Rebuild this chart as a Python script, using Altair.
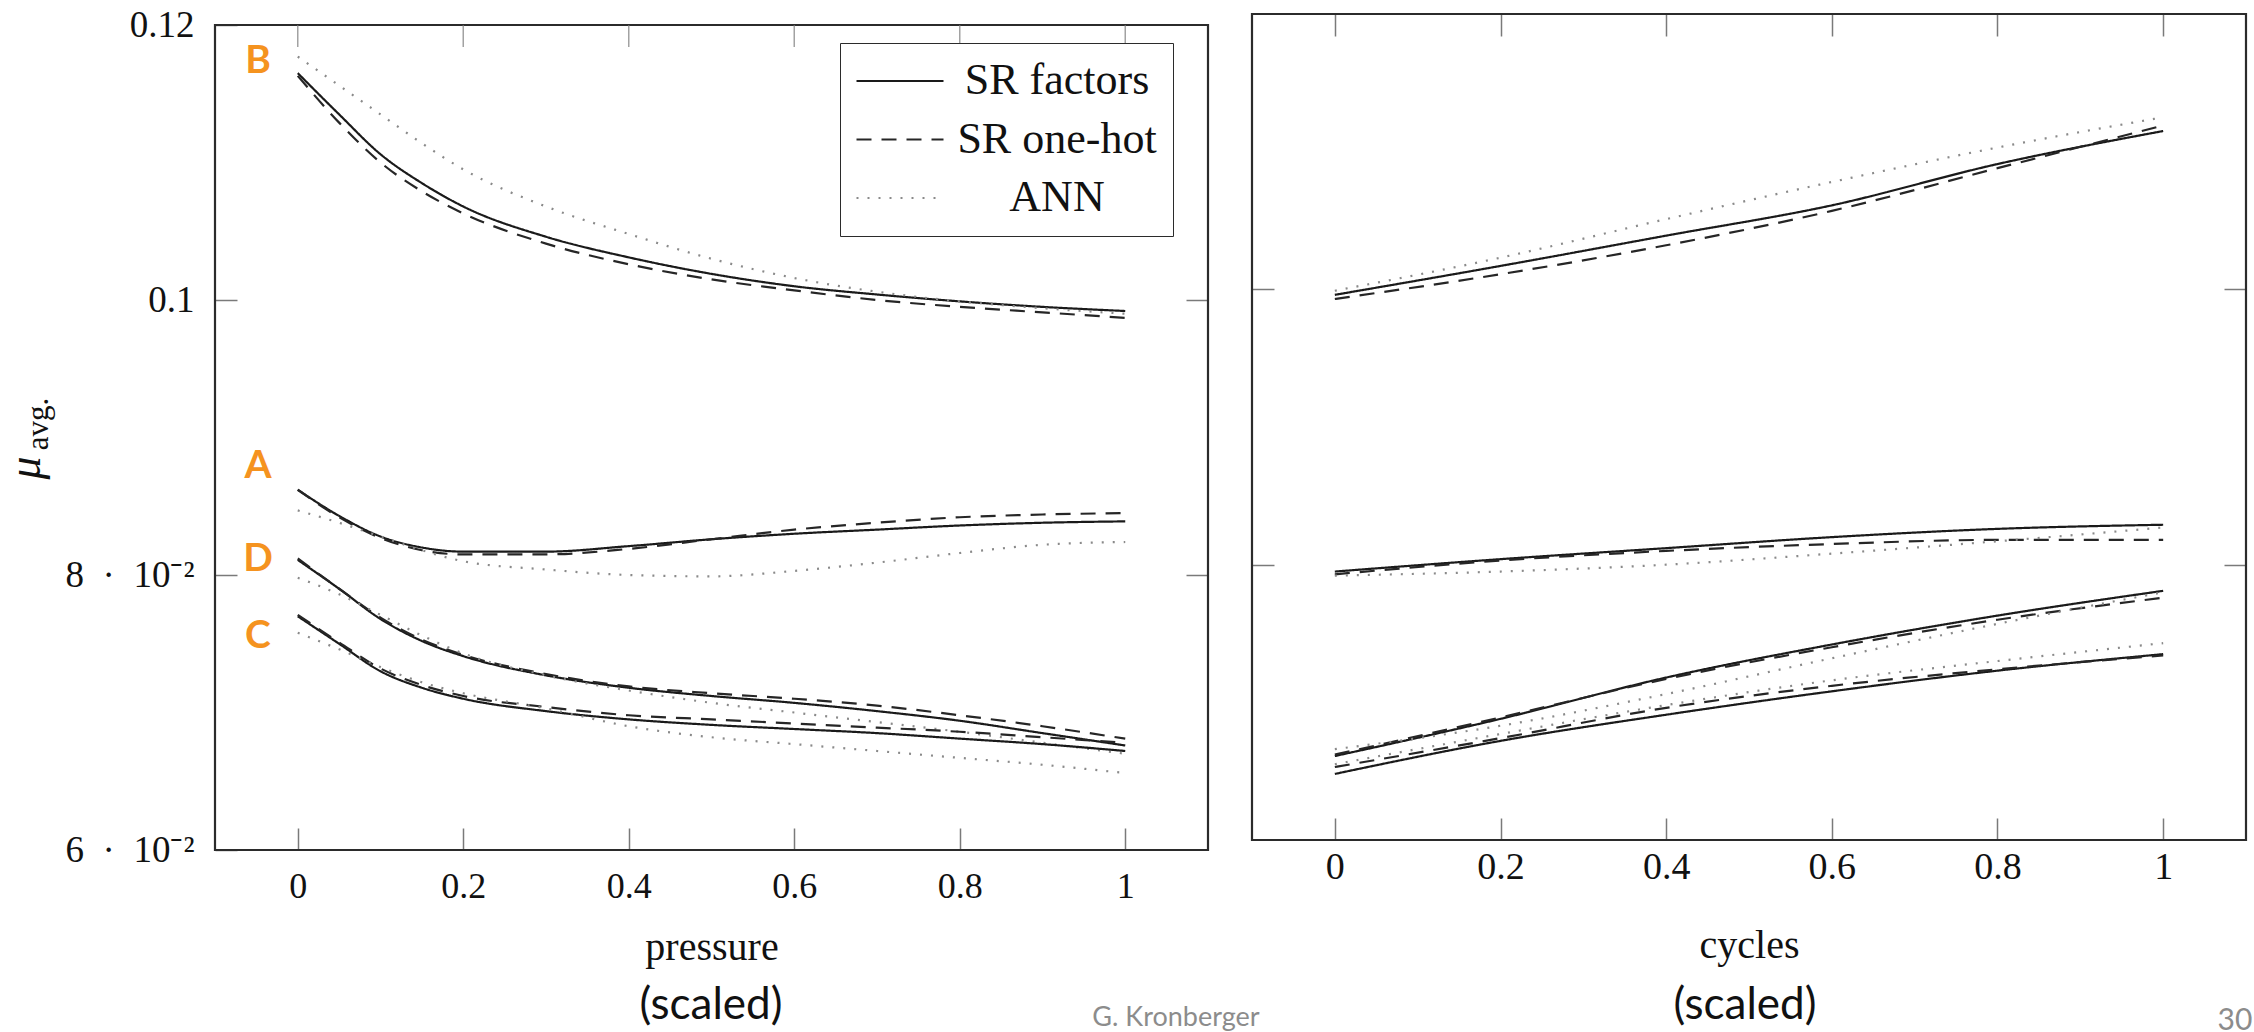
import altair as alt
import pandas as pd

# ---------------- data ----------------
MODELS = ["SR factors", "SR one-hot", "ANN"]
MODEL_COLORS = ["#1a1a1a", "#262626", "#8a8a8a"]
MODEL_DASHES = [[1, 0], [15, 10], [2, 9]]

X_TICKS = [0, 0.2, 0.4, 0.6, 0.8, 1.0]
X_DOMAIN = [-0.1, 1.1]
Y_TICKS = [0.06, 0.08, 0.1, 0.12]
Y_TICK_LABELS = ["6\u2002·\u200210⁻²", "8\u2002·\u200210⁻²", "0.1", "0.12"]
Y_DOMAIN = [0.06, 0.12]
Y_DOMAIN_LEFT = [0.06, 0.1208]  # left frame sits a little lower than the right one

# left panel: pressure (scaled)
p_x = [0, 0.05, 0.1, 0.15, 0.2, 0.3, 0.4, 0.5, 0.6, 0.7, 0.8, 0.9, 1.0]
p_B_factors = [0.1165, 0.1135, 0.1106, 0.1085, 0.1068, 0.1046, 0.1031, 0.1019, 0.1010, 0.1004, 0.0999, 0.0995, 0.0992]
p_B_onehot = [0.1163, 0.1129, 0.1100, 0.1079, 0.1063, 0.1041, 0.1026, 0.1015, 0.1007, 0.1000, 0.0995, 0.0991, 0.0987]
p_B_ann = [0.1177, 0.1156, 0.1135, 0.1114, 0.1095, 0.1068, 0.1048, 0.1030, 0.1016, 0.1006, 0.0999, 0.0994, 0.0990]
p_A_factors = [0.0862, 0.0843, 0.0828, 0.0820, 0.0817, 0.0817, 0.0821, 0.0826, 0.0830, 0.0833, 0.0836, 0.0838, 0.0839]
p_A_onehot = [0.0862, 0.0842, 0.0827, 0.0818, 0.0815, 0.0815, 0.0819, 0.0826, 0.0833, 0.0838, 0.0842, 0.0844, 0.0845]
p_A_ann = [0.0847, 0.0838, 0.0828, 0.0818, 0.0810, 0.0804, 0.0800, 0.0799, 0.0803, 0.0809, 0.0816, 0.0822, 0.0824]
p_D_factors = [0.0811, 0.0790, 0.0768, 0.0752, 0.0741, 0.0727, 0.0718, 0.0712, 0.0707, 0.0701, 0.0694, 0.0685, 0.0676]
p_D_onehot = [0.0812, 0.0790, 0.0769, 0.0753, 0.0742, 0.0728, 0.0719, 0.0714, 0.0710, 0.0705, 0.0698, 0.0690, 0.0681]
p_D_ann = [0.0798, 0.0786, 0.0771, 0.0756, 0.0743, 0.0727, 0.0716, 0.0707, 0.0700, 0.0693, 0.0686, 0.0678, 0.0670]
p_C_factors = [0.0770, 0.0750, 0.0730, 0.0718, 0.0710, 0.0701, 0.0695, 0.0691, 0.0688, 0.0685, 0.0681, 0.0677, 0.0672]
p_C_onehot = [0.0771, 0.0751, 0.0732, 0.0720, 0.0712, 0.0704, 0.0698, 0.0695, 0.0692, 0.0689, 0.0686, 0.0682, 0.0678]
p_C_ann = [0.0758, 0.0746, 0.0733, 0.0722, 0.0714, 0.0703, 0.0690, 0.0682, 0.0677, 0.0672, 0.0667, 0.0662, 0.0656]

# right panel: cycles (scaled)
c_x = [0, 0.2, 0.4, 0.6, 0.8, 1.0]
c_B_factors = [0.0996, 0.1017, 0.1039, 0.1061, 0.1091, 0.1115]
c_B_onehot = [0.0993, 0.1011, 0.1032, 0.1057, 0.1088, 0.1119]
c_B_ann = [0.0999, 0.1023, 0.1051, 0.1078, 0.1103, 0.1125]
c_A_factors = [0.0795, 0.0804, 0.0812, 0.0820, 0.0826, 0.0829]
c_A_onehot = [0.0793, 0.0803, 0.0810, 0.0815, 0.0818, 0.0818]
c_A_ann = [0.0792, 0.0795, 0.0800, 0.0808, 0.0817, 0.0827]
c_D_factors = [0.0661, 0.0688, 0.0718, 0.0742, 0.0763, 0.0781]
c_D_onehot = [0.0662, 0.0689, 0.0717, 0.0740, 0.0760, 0.0776]
c_D_ann = [0.0666, 0.0683, 0.0706, 0.0732, 0.0757, 0.0780]
c_C_factors = [0.0648, 0.0672, 0.0691, 0.0708, 0.0723, 0.0735]
c_C_onehot = [0.0653, 0.0674, 0.0696, 0.0712, 0.0724, 0.0734]
c_C_ann = [0.0655, 0.0677, 0.0698, 0.0716, 0.0730, 0.0743]

# annotations
letters = ["B", "A", "D", "C"]
letters_x = [-0.048, -0.048, -0.048, -0.048]
letters_y = [0.11735, 0.08793, 0.0812, 0.07556]
x_title_left = "pressure"
x_title_right = "cycles"
scaled_note = ["(scaled)"]
y_title_main = ["μ"]
y_title_sub = ["avg."]
footer_author = ["G. Kronberger"]
footer_page = ["30"]


def long_df(xs, series):
    rows = []
    for (group, model), ys in series:
        for x, y in zip(xs, ys):
            rows.append({"group": group, "model": model, "x": x, "y": y})
    return pd.DataFrame(rows)


df_left = long_df(p_x, [
    (("B", "SR factors"), p_B_factors), (("B", "SR one-hot"), p_B_onehot), (("B", "ANN"), p_B_ann),
    (("A", "SR factors"), p_A_factors), (("A", "SR one-hot"), p_A_onehot), (("A", "ANN"), p_A_ann),
    (("D", "SR factors"), p_D_factors), (("D", "SR one-hot"), p_D_onehot), (("D", "ANN"), p_D_ann),
    (("C", "SR factors"), p_C_factors), (("C", "SR one-hot"), p_C_onehot), (("C", "ANN"), p_C_ann),
])
df_right = long_df(c_x, [
    (("B", "SR factors"), c_B_factors), (("B", "SR one-hot"), c_B_onehot), (("B", "ANN"), c_B_ann),
    (("A", "SR factors"), c_A_factors), (("A", "SR one-hot"), c_A_onehot), (("A", "ANN"), c_A_ann),
    (("D", "SR factors"), c_D_factors), (("D", "SR one-hot"), c_D_onehot), (("D", "ANN"), c_D_ann),
    (("C", "SR factors"), c_C_factors), (("C", "SR one-hot"), c_C_onehot), (("C", "ANN"), c_C_ann),
])
frame_df = pd.DataFrame({"x1": [X_DOMAIN[0]], "x2": [X_DOMAIN[1]], "y1": [Y_DOMAIN[0]], "y2": [Y_DOMAIN[1]]})
xtick_df = pd.DataFrame({"x": X_TICKS, "y": [Y_DOMAIN[1]] * len(X_TICKS)})
letters_df = pd.DataFrame({"t": letters, "x": letters_x, "y": letters_y})
one_df = pd.DataFrame({"k": [0]})

# ---------------- style ----------------
SERIF = "Liberation Serif"
SANS = "Lato"
LEFT_W, LEFT_H = 993, 836
RIGHT_W, RIGHT_H = 994, 826
TICK = 22

label_expr = " : ".join(
    f"abs(datum.value - {v}) < 0.000001 ? '{lab}'" for v, lab in zip(Y_TICKS, Y_TICK_LABELS)
) + " : ''"

tick_style = dict(offset=-TICK, tickSize=TICK, domain=False, grid=False,
                  tickColor="#7a7a7a", tickWidth=1.5)

color_scale = alt.Scale(domain=MODELS, range=MODEL_COLORS)
dash_scale = alt.Scale(domain=MODELS, range=MODEL_DASHES)
x_scale = alt.Scale(domain=X_DOMAIN, nice=False, zero=False)
y_scale_left = alt.Scale(domain=Y_DOMAIN_LEFT, nice=False, zero=False)
y_scale_right = alt.Scale(domain=Y_DOMAIN, nice=False, zero=False)

legend = alt.Legend(
    title=None, orient="none", legendX=625, legendY=29, direction="vertical",
    fillColor="white", strokeColor="#2b2b2b", padding=16, cornerRadius=0,
    symbolType="M-2.175,0H2.175", symbolSize=1600, symbolOffset=22, symbolStrokeWidth=2.2,
    labelFont=SERIF, labelFontSize=44, labelColor="#111111",
    labelAlign="center", labelOffset=135, labelLimit=600, rowPadding=14.5,
)


def bottom_axis(title, label_size, label_pad, title_pad):
    return alt.Axis(orient="bottom", values=X_TICKS, format=".1~f", labelFlush=False,
                    labelFont=SERIF, labelFontSize=label_size, labelColor="#111111",
                    labelPadding=label_pad, title=title, titleFont=SERIF, titleFontSize=40,
                    titleFontWeight="normal", titleColor="#111111", titlePadding=title_pad,
                    **tick_style)


def text_layer(values, **kw):
    return alt.Chart(pd.DataFrame({"t": values})).mark_text(**kw).encode(text="t:N")


# ---------------- left panel ----------------
left_frame = alt.Chart(frame_df).mark_rect(fill="transparent", stroke="#2b2b2b", strokeWidth=2.2).encode(
    x=alt.X("x1:Q", scale=x_scale, axis=None),
    x2="x2:Q",
    y=alt.Y("y1:Q", scale=y_scale_left,
            axis=alt.Axis(orient="right", values=[0.08, 0.1], labels=False, title=None, **tick_style)),
    y2="y2:Q",
)
left_top_ticks = alt.Chart(xtick_df).mark_tick(
    orient="vertical", size=TICK, thickness=1.5, yOffset=TICK / 2, color="#7a7a7a"
).encode(
    x=alt.X("x:Q", scale=x_scale, axis=None),
    y=alt.Y("y:Q", scale=y_scale_left, axis=None),
)
left_lines = alt.Chart(df_left).mark_line(strokeWidth=2.2, interpolate="monotone").encode(
    x=alt.X("x:Q", scale=x_scale, axis=bottom_axis(x_title_left, 36, 19, 23)),
    y=alt.Y("y:Q", scale=y_scale_left,
            axis=alt.Axis(orient="left", values=Y_TICKS, labelExpr=label_expr, labelFont=SERIF,
                          labelFontSize=37, labelColor="#111111", labelPadding=21, title=None,
                          **tick_style)),
    color=alt.Color("model:N", scale=color_scale, legend=legend),
    strokeDash=alt.StrokeDash("model:N", scale=dash_scale, legend=legend),
    detail="group:N",
)
left_letters = alt.Chart(letters_df).mark_text(
    font=SANS, fontSize=39, fontWeight="bold", color="#F5931F", align="center", baseline="middle"
).encode(
    x=alt.X("x:Q", scale=x_scale, axis=None),
    y=alt.Y("y:Q", scale=y_scale_left, axis=None),
    text="t:N",
)
left_scaled = text_layer(scaled_note, font=SANS, fontSize=44, color="#111111",
                         align="center", baseline="middle").encode(x=alt.value(496), y=alt.value(992))
mu = text_layer(y_title_main, font=SERIF, fontSize=46, fontStyle="italic", color="#111111",
                align="center", baseline="middle", angle=270).encode(x=alt.value(-189), y=alt.value(454))
mu_sub = text_layer(y_title_sub, font=SERIF, fontSize=31, color="#111111",
                    align="center", baseline="middle", angle=270).encode(x=alt.value(-176), y=alt.value(410))
page_anchor = alt.Chart(one_df).mark_rect(opacity=0).encode(
    x=alt.value(-214), x2=alt.value(-204), y=alt.value(-13), y2=alt.value(-3)
)

left = alt.layer(
    page_anchor, left_frame, left_top_ticks, left_lines, left_letters, left_scaled, mu, mu_sub
).resolve_axis(x="independent", y="independent").properties(width=LEFT_W, height=LEFT_H)

# ---------------- right panel ----------------
right_frame = alt.Chart(frame_df).mark_rect(fill="transparent", stroke="#2b2b2b", strokeWidth=2.2).encode(
    x=alt.X("x1:Q", scale=x_scale,
            axis=alt.Axis(orient="top", values=X_TICKS, labels=False, title=None, **tick_style)),
    x2="x2:Q",
    y=alt.Y("y1:Q", scale=y_scale_right,
            axis=alt.Axis(orient="right", values=[0.08, 0.1], labels=False, title=None, **tick_style)),
    y2="y2:Q",
)
right_lines = alt.Chart(df_right).mark_line(strokeWidth=2.2, interpolate="monotone").encode(
    x=alt.X("x:Q", scale=x_scale, axis=bottom_axis(x_title_right, 38, 8, 39)),
    y=alt.Y("y:Q", scale=y_scale_right,
            axis=alt.Axis(orient="left", values=[0.08, 0.1], labels=False, title=None, **tick_style)),
    color=alt.Color("model:N", scale=color_scale, legend=None),
    strokeDash=alt.StrokeDash("model:N", scale=dash_scale, legend=None),
    detail="group:N",
)
right_scaled = text_layer(scaled_note, font=SANS, fontSize=44, color="#111111",
                          align="center", baseline="middle").encode(x=alt.value(493), y=alt.value(992))
author = text_layer(footer_author, font=SANS, fontSize=27, color="#8c8c8c",
                    align="center", baseline="top").encode(x=alt.value(-76), y=alt.value(991))
page_no = text_layer(footer_page, font=SANS, fontSize=30, color="#8c8c8c",
                     align="center", baseline="top").encode(x=alt.value(983), y=alt.value(992))

right = alt.layer(
    right_frame, right_lines, right_scaled, author, page_no
).resolve_axis(x="independent", y="independent").properties(width=RIGHT_W, height=RIGHT_H)

chart = alt.hconcat(left, right, spacing=44, bounds="flush").resolve_scale(
    color="independent", strokeDash="independent"
).properties(padding=0, background="white").configure_view(stroke="transparent")

chart.save("out.html", embed_options={"renderer": "svg", "actions": False})
